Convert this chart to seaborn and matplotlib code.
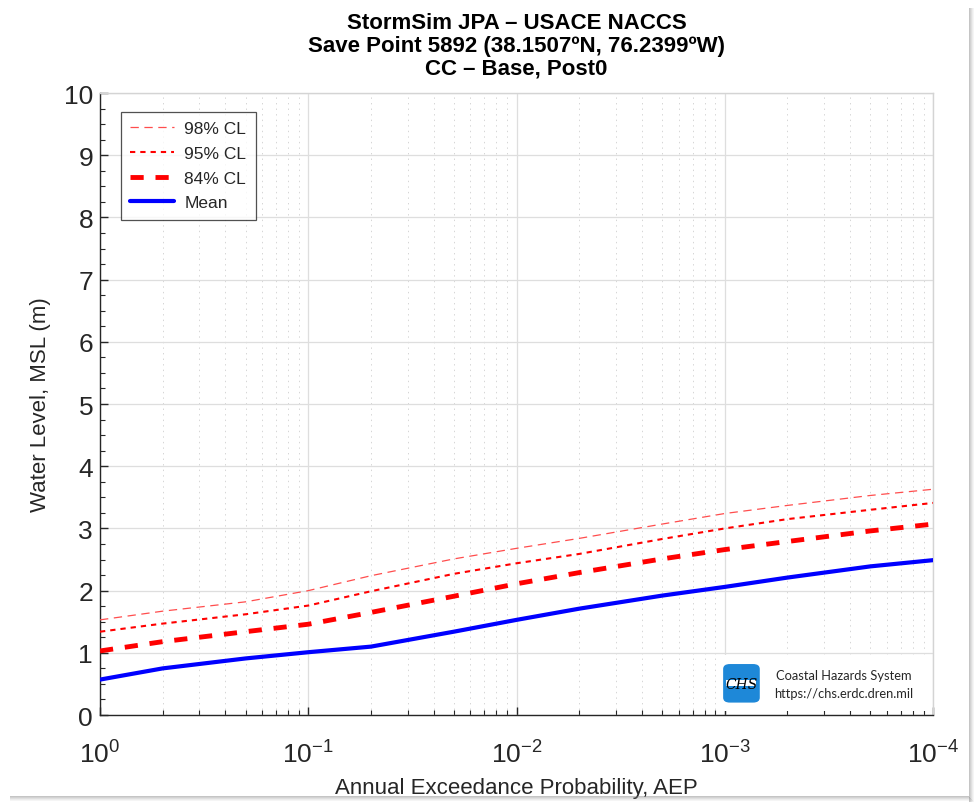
import numpy as np
import pandas as pd
import matplotlib
matplotlib.use("Agg")
import matplotlib.pyplot as plt
import seaborn as sns
from matplotlib.patches import Rectangle, FancyBboxPatch
from matplotlib.ticker import FixedLocator, LogLocator, NullFormatter, MultipleLocator

# Annual exceedance probabilities of the curve nodes
aep = [1, 0.5, 0.2, 0.1, 0.05, 0.02, 0.01, 0.005, 0.002, 0.001, 0.0005, 0.0002, 0.0001]

# Water level (m, MSL) for each AEP
wl_mean = [0.57, 0.75, 0.91, 1.01, 1.10, 1.34, 1.53, 1.71, 1.92, 2.06, 2.21, 2.39, 2.49]
wl_cl84 = [1.03, 1.18, 1.34, 1.46, 1.65, 1.91, 2.11, 2.29, 2.51, 2.66, 2.79, 2.96, 3.07]
wl_cl95 = [1.34, 1.47, 1.62, 1.76, 1.99, 2.27, 2.44, 2.59, 2.83, 3.00, 3.15, 3.30, 3.41]
wl_cl98 = [1.53, 1.67, 1.82, 2.00, 2.24, 2.51, 2.68, 2.84, 3.07, 3.24, 3.37, 3.53, 3.63]

series_names = ["98% CL", "95% CL", "84% CL", "Mean"]
x_tick_labels = [r"$\mathrm{10^{0}}$", r"$\mathrm{10^{-1}}$", r"$\mathrm{10^{-2}}$",
                 r"$\mathrm{10^{-3}}$", r"$\mathrm{10^{-4}}$"]
y_ticks = list(range(0, 11))

title_lines = ["StormSim JPA \u2013 USACE NACCS",
               "Save Point 5892 (38.1507\u00baN, 76.2399\u00baW)",
               "CC \u2013 Base, Post0"]

sns.set_style("white")
plt.rcParams["font.family"] = ["Liberation Sans", "DejaVu Sans"]
plt.rcParams["mathtext.fontset"] = "custom"
plt.rcParams["mathtext.rm"] = "Liberation Sans"
plt.rcParams["mathtext.it"] = "Liberation Sans:italic"
plt.rcParams["mathtext.bf"] = "Liberation Sans:bold"
plt.rcParams["lines.scale_dashes"] = False

# The axis runs in return period (1/AEP) so it reads from 10^0 to 10^-4
df = pd.DataFrame({"rp": [1.0 / a for a in aep],
                   "98% CL": wl_cl98, "95% CL": wl_cl95,
                   "84% CL": wl_cl84, "Mean": wl_mean})

fig = plt.figure(figsize=(9.76, 8.03), dpi=100)
ax = fig.add_axes([0.1025, 0.1083, 0.8535, 0.7746])

styles = {
    "98% CL": dict(color="#ff4d4d", lw=0.9, dashes=(6.0, 4.0)),
    "95% CL": dict(color="#ff0000", lw=1.5, dashes=(3.8, 3.6)),
    "84% CL": dict(color="#ff0000", lw=3.5, dashes=(9.5, 8.5)),
    "Mean": dict(color="#0000ff", lw=3.0),
}
for name in series_names:
    st = styles[name]
    kw = dict(color=st["color"], linewidth=st["lw"], label=name, zorder=3)
    line_ax = sns.lineplot(data=df, x="rp", y=name, ax=ax, **kw)
    if "dashes" in st:
        line_ax.lines[-1].set_dashes(st["dashes"])

ax.set_xscale("log")
ax.set_xlim(1, 1e4)
ax.set_ylim(0, 10)

ax.xaxis.set_major_locator(FixedLocator([1, 10, 100, 1000, 10000]))
ax.set_xticklabels(x_tick_labels)
ax.xaxis.set_minor_locator(LogLocator(base=10, subs=np.arange(2, 10)))
ax.xaxis.set_minor_formatter(NullFormatter())
ax.set_yticks(y_ticks)
ax.yaxis.set_minor_locator(MultipleLocator(0.25))

ax.grid(True, which="major", axis="both", color="#dedede", linewidth=0.9, zorder=0)
ax.grid(True, which="minor", axis="x", color="#cfcfcf", linewidth=0.6,
        linestyle=(0, (1, 3)), zorder=0)
ax.set_axisbelow(True)

ax.tick_params(axis="both", which="major", direction="in", length=6, width=1.0,
               color="#262626", labelsize=19, labelcolor="#262626",
               bottom=True, left=True, top=False, right=False)
ax.tick_params(axis="both", which="minor", direction="in", length=3.5, width=0.8,
               color="#262626", bottom=True, left=True, top=False, right=False)
ax.tick_params(axis="y", which="major", pad=5)
ax.tick_params(axis="x", which="major", pad=18)

for side in ["left", "bottom"]:
    ax.spines[side].set_color("#262626")
    ax.spines[side].set_linewidth(1.0)
for side in ["top", "right"]:
    ax.spines[side].set_color("#d4d4d4")
    ax.spines[side].set_linewidth(1.0)

ax.set_xlabel("Annual Exceedance Probability, AEP", fontsize=16, color="#262626", labelpad=7)
ax.set_ylabel("Water Level, MSL (m)", fontsize=16, color="#262626", labelpad=9)

ax.set_title("\n".join(title_lines), fontsize=16, fontweight="bold",
             color="#000000", linespacing=1.12, pad=14)

leg = ax.legend(loc="upper left", bbox_to_anchor=(0.025, 0.970), fontsize=12.5,
                frameon=True, fancybox=False, handlelength=2.5, handletextpad=0.6,
                borderpad=0.55, labelspacing=0.55, borderaxespad=0.0)
leg.get_frame().set_edgecolor("#262626")
leg.get_frame().set_linewidth(0.9)
for txt in leg.get_texts():
    txt.set_color("#262626")

# Coastal Hazards System badge in the lower right corner
ax.add_patch(Rectangle((0.742, 0.006), 0.252, 0.090, transform=ax.transAxes,
                       facecolor="white", edgecolor="none", zorder=4))
ax.add_patch(FancyBboxPatch((0.750, 0.022), 0.040, 0.058, transform=ax.transAxes,
                            boxstyle="round,pad=0.002,rounding_size=0.008",
                            facecolor="#1e88d8", edgecolor="none", zorder=5))
ax.add_patch(Rectangle((0.752, 0.046), 0.036, 0.010, transform=ax.transAxes,
                       facecolor="white", edgecolor="none", zorder=5))
ax.text(0.770, 0.050, "CHS", transform=ax.transAxes, fontsize=10, fontstyle="italic",
        family=["DejaVu Serif"], color="black", ha="center", va="center", zorder=6)
ax.text(0.893, 0.064, "Coastal Hazards System", transform=ax.transAxes, fontsize=9.3,
        family=["Lato", "DejaVu Sans"], color="#262626", ha="center", va="center", zorder=6)
ax.text(0.893, 0.036, "https://chs.erdc.dren.mil", transform=ax.transAxes, fontsize=9.3,
        family=["Lato", "DejaVu Sans"], color="#262626", ha="center", va="center", zorder=6)

# Soft drop shadow along the right and bottom edges of the page
W, H = 976.0, 803.0
for i, a in enumerate([0.45, 0.35, 0.25, 0.15, 0.08]):
    fig.patches.append(Rectangle(((969 + i) / W, 0.0), 1.0 / W, (H - 9) / H,
                                 transform=fig.transFigure, facecolor="#808080",
                                 alpha=a, edgecolor="none"))
    fig.patches.append(Rectangle((10 / W, (5 - i) / H), (959 + i) / W, 1.0 / H,
                                 transform=fig.transFigure, facecolor="#808080",
                                 alpha=a, edgecolor="none"))

fig.savefig("out.png", dpi=100, facecolor="white")
